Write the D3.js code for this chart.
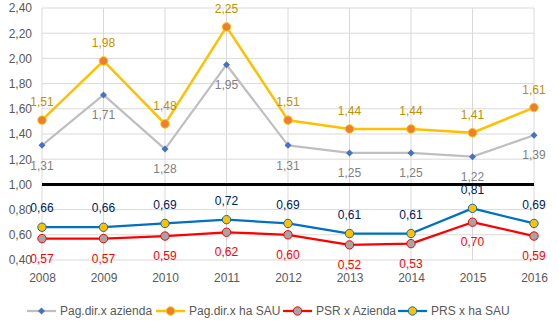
<!DOCTYPE html>
<html><head><meta charset="utf-8">
<script src="https://cdn.jsdelivr.net/npm/d3@7"></script>
<style>body{margin:0;background:#fff}svg{display:block;font-family:"Liberation Sans",Arial,sans-serif}</style>
</head><body>
<script>
const years = ["2008","2009","2010","2011","2012","2013","2014","2015","2016"];
const pagAzienda = [1.31,1.71,1.28,1.95,1.31,1.25,1.25,1.22,1.39];
const pagHaSau = [1.51,1.98,1.48,2.25,1.51,1.44,1.44,1.41,1.61];
const psrAzienda = [0.57,0.57,0.59,0.62,0.60,0.52,0.53,0.70,0.59];
const prsHaSau = [0.66,0.66,0.69,0.72,0.69,0.61,0.61,0.81,0.69];
const yTicks = [0.4,0.6,0.8,1.0,1.2,1.4,1.6,1.8,2.0,2.2,2.4];
const seriesNames = ["Pag.dir.x azienda","Pag.dir.x ha SAU","PSR x Azienda","PRS x ha SAU"];

const W=559,H=329;
const svg=d3.select("body").append("svg").attr("width",W).attr("height",H);
const x=d3.scalePoint().domain(years).range([42,534]);
const y=d3.scaleLinear().domain([0.4,2.4]).range([260,8]);
const fmt=v=>d3.format(".2f")(v).replace(".",",");

// grid
svg.append("g").selectAll("line").data(yTicks).join("line")
 .attr("x1",42).attr("x2",534).attr("y1",d=>y(d)).attr("y2",d=>y(d))
 .attr("stroke","#d9d9d9").attr("stroke-width",1);
svg.append("g").selectAll("line").data(years).join("line")
 .attr("x1",d=>x(d)).attr("x2",d=>x(d)).attr("y1",y(2.4)).attr("y2",y(0.4))
 .attr("stroke","#d9d9d9").attr("stroke-width",1);

// axes
const ya=svg.append("g").attr("transform","translate(42,0)")
 .call(d3.axisLeft(y).tickValues(yTicks).tickFormat(fmt).tickSize(0).tickPadding(10));
ya.select(".domain").remove();
ya.selectAll("text").attr("fill","#595959").attr("font-size",12).attr("font-family","Liberation Sans, Arial");
const xa=svg.append("g").attr("transform","translate(0,271)")
 .call(d3.axisBottom(x).tickSize(0).tickPadding(2));
xa.select(".domain").remove();
xa.selectAll("text").attr("fill","#595959").attr("font-size",12).attr("font-family","Liberation Sans, Arial");

// thick 1.00 line
svg.append("line").attr("x1",42).attr("x2",534).attr("y1",y(1)).attr("y2",y(1))
 .attr("stroke","#000").attr("stroke-width",3);

const series=[
 {name:seriesNames[0],vals:pagAzienda,line:"#bfbfbf",lw:2.25,marker:"diamond",fill:"#4472c4",stroke:"#4472c4",lab:"#7f7f7f",dy:20},
 {name:seriesNames[1],vals:pagHaSau,line:"#ffc000",lw:2.5,marker:"circle",fill:"#ed7d31",stroke:"#ffc000",lab:"#bf9000",dy:-18},
 {name:seriesNames[2],vals:psrAzienda,line:"#ff0000",lw:2.25,marker:"circle",fill:"#a5a5a5",stroke:"#ff0000",lab:"#ff0000",dy:20},
 {name:seriesNames[3],vals:prsHaSau,line:"#0070c0",lw:2.25,marker:"circle",fill:"#ffc000",stroke:"#0070c0",lab:"#002060",dy:-19}
];
const line=d3.line().x((d,i)=>x(years[i])).y(d=>y(d));
function drawMarker(g,s,cx,cy){
  if(s.marker==="diamond"){
    g.append("path").attr("d",`M${cx},${cy-3.5}L${cx+3.5},${cy}L${cx},${cy+3.5}L${cx-3.5},${cy}Z`).attr("fill",s.fill);
  } else {
    g.append("circle").attr("cx",cx).attr("cy",cy).attr("r",4.2).attr("fill",s.fill).attr("stroke",s.stroke).attr("stroke-width",1);
  }
}
series.forEach(s=>{
  const g=svg.append("g");
  g.append("path").datum(s.vals).attr("d",line).attr("fill","none").attr("stroke",s.line).attr("stroke-width",s.lw).attr("stroke-linejoin","round");
  s.vals.forEach((v,i)=>drawMarker(g,s,x(years[i]),y(v)));
  g.selectAll("text").data(s.vals).join("text")
   .attr("x",(d,i)=>x(years[i])).attr("y",d=>y(d)+s.dy).attr("dy","0.35em")
   .attr("text-anchor","middle").attr("fill",s.lab).attr("font-size",12)
   .text(d=>fmt(d));
});

// legend
const lg=svg.append("g");
const lx=[27,156,283,398];
series.forEach((s,i)=>{
  const cy=311;
  lg.append("line").attr("x1",lx[i]).attr("x2",lx[i]+29).attr("y1",cy).attr("y2",cy).attr("stroke",s.line).attr("stroke-width",s.lw);
  drawMarker(lg,s,lx[i]+14.5,cy);
  lg.append("text").attr("x",lx[i]+33).attr("y",cy).attr("dy","0.35em").attr("fill","#595959").attr("font-size",12).text(s.name);
});
</script>
</body></html>
